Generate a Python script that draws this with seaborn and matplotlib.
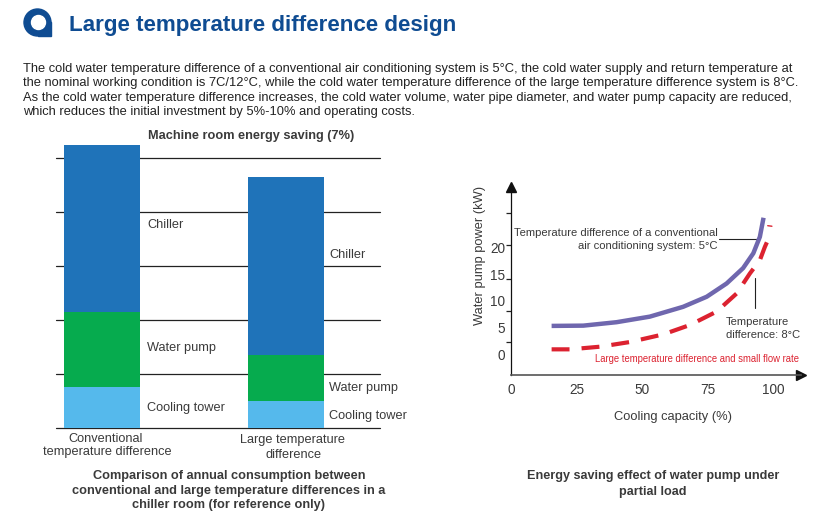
import numpy as np
import matplotlib
matplotlib.use("Agg")
import matplotlib.pyplot as plt
from matplotlib.patches import Circle, Rectangle
from matplotlib.ticker import FixedLocator
import seaborn as sns

# stacked bar values, in gridline units
bar_labels = ["Conventional", "Large"]
tower = [0.76, 0.50]
pump = [1.39, 0.85]
chiller = [3.09, 3.30]

# curves
conv_x = [15.5, 27.6, 40.3, 53, 65.7, 74.7, 82.3, 88.6, 92.5, 95, 96.4]
conv_y = [5.3, 5.35, 6.0, 7.05, 8.9, 10.8, 13.3, 16.2, 19, 22.1, 25.7]
large_x = [15.5, 22.5, 34, 45.4, 58.1, 68.3, 78.5, 86.1, 91.2, 95, 96.9, 98.6]
large_y = [0.88, 0.88, 1.38, 2.26, 3.7, 5.47, 8, 11.4, 15.2, 17.7, 20.2, 22.1]
large_end_x = [98.0, 99.6]
large_end_y = [24.2, 24.1]

y_labels = [0, 5, 10, 15, 20]
x_labels = [0, 25, 50, 75, 100]
y_marks = [2.26, 8.1, 14.15, 20.6, 26.6]

W, H = 815, 522
sns.set_style("white")
plt.rcParams['font.family'] = ['Liberation Sans', 'DejaVu Sans']
fig = plt.figure(figsize=(W / 100, H / 100), dpi=100)


def add_axes_px(left, top, right, bottom):
    return fig.add_axes([left / W, 1 - bottom / H, (right - left) / W, (bottom - top) / H])


def put(x, y, s, size=9.2, color="#3a3a3a", ha="left", **kw):
    fig.text(x / W, 1 - y / H, s, fontsize=size, color=color, ha=ha, va="center_baseline", **kw)


# header
put(69, 23, "Large temperature difference design", size=16.15, color="#0f4c92", weight="bold")
body = ["The cold water temperature difference of a conventional air conditioning system is 5°C, the cold water supply and return temperature at",
        "the nominal working condition is 7C/12°C, while the cold water temperature difference of the large temperature difference system is 8°C.",
        "As the cold water temperature difference increases, the cold water volume, water pipe diameter, and water pump capacity are reduced,",
        "which reduces the initial investment by 5%-10% and operating costs."]
for i, line in enumerate(body):
    put(23, 67.5 + i * 14.4, line, size=9.28, color="#222222")

# logo
logo = fig.add_axes([0, 0, 1, 1], facecolor="none")
logo.set_xlim(0, W)
logo.set_ylim(H, 0)
logo.axis("off")
logo.add_patch(Rectangle((38, 22), 13, 14, color="#0f4c92"))
logo.add_patch(Circle((37.5, 22.5), 13.5, color="#0f4c92"))
logo.add_patch(Circle((38.5, 22.5), 7, color="white"))

# left chart
ax = add_axes_px(56, 143.8, 380, 428)
tower_top = np.array(tower)
pump_top = tower_top + np.array(pump)
chiller_top = pump_top + np.array(chiller)
sns.barplot(x=bar_labels, y=chiller_top, color="#1f73b9", saturation=1, width=0.413, linewidth=0, ax=ax, zorder=3)
sns.barplot(x=bar_labels, y=pump_top, color="#06ab4e", saturation=1, width=0.413, linewidth=0, ax=ax, zorder=3)
sns.barplot(x=bar_labels, y=tower_top, color="#55b9ec", saturation=1, width=0.413, linewidth=0, ax=ax, zorder=3)
ax.set_xlim(-0.25, 1.51)
ax.set_ylim(0, 5.263)
ax.set_yticks(range(6))
ax.grid(axis="y", color="#222222", lw=0.9, clip_on=False)
ax.set_axisbelow(True)
ax.tick_params(left=False, bottom=False, labelleft=False, labelbottom=False)
ax.set_ylabel("")
sns.despine(ax=ax, left=True, bottom=True)

put(251, 134, "Machine room energy saving (7%)", size=9.15, weight="bold", ha="center")
for x, y, s in [(147, 223, "Chiller"), (147, 346, "Water pump"), (147, 407, "Cooling tower"),
                (329, 253, "Chiller"), (329, 386, "Water pump"), (329, 414, "Cooling tower")]:
    put(x, y, s)
put(106, 437, "Conventional", ha="center")
put(107, 451, "temperature difference", ha="center")
put(293, 439, "Large temperature", ha="center")
put(294, 454, "difference", ha="center")
for i, s in enumerate(["Comparison of annual consumption between",
                       "conventional and large temperature differences in a",
                       "chiller room (for reference only)"]):
    put(229, 474.5 + i * 14.7, s, size=9.15, weight="bold", ha="center")

# right chart
ax2 = add_axes_px(511, 187, 801, 375)
sns.lineplot(x=conv_x, y=conv_y, color="#6f67ae", lw=3.2, ax=ax2, solid_capstyle="butt", zorder=3)
sns.lineplot(x=large_x, y=large_y, color="#dc2230", lw=3.0, ax=ax2, linestyle=(0, (4.3, 2.9)),
             dash_capstyle="butt", zorder=3)
sns.lineplot(x=large_end_x, y=large_end_y, color="#dc2230", lw=1.0, ax=ax2, zorder=3)
ax2.set_xlim(0, 110.7)
ax2.set_ylim(-3.96, 31.5)
ax2.set_xticks(x_labels)
ax2.set_yticks(y_labels)
ax2.yaxis.set_minor_locator(FixedLocator(y_marks))
ax2.tick_params(axis="x", length=0, labelsize=9.8, labelcolor="#3a3a3a", pad=6)
ax2.tick_params(axis="y", which="major", length=0, labelsize=9.8, labelcolor="#3a3a3a", pad=4)
ax2.tick_params(axis="y", which="minor", left=True, length=3.5, width=0.9, color="#222222")
sns.despine(ax=ax2)
ax2.spines["left"].set_color("#111111")
ax2.spines["bottom"].set_color("#555555")
ax2.spines["left"].set_linewidth(0.9)
ax2.spines["bottom"].set_linewidth(1.2)
ax2.plot(1, 0, ">", color="#111111", ms=7, transform=ax2.transAxes, clip_on=False)
ax2.plot(0, 1, "^", color="#111111", ms=7, transform=ax2.transAxes, clip_on=False)
ax2.set_xlabel("Cooling capacity (%)", fontsize=9.3, color="#3a3a3a")
ax2.set_ylabel("Water pump power (kW)", fontsize=9.3, color="#3a3a3a")
ax2.xaxis.set_label_coords(0.559, -0.19)
ax2.yaxis.set_label_coords(-0.087, 0.636)

# callouts
ax2.plot([79.4, 94.3], [21.7, 21.7], color="#222222", lw=0.8)
ax2.plot([93.1, 93.1], [14.3, 8.7], color="#222222", lw=0.8)
put(718, 232, "Temperature difference of a conventional", size=8.1, ha="right")
put(718, 244.5, "air conditioning system: 5°C", size=8.1, ha="right")
put(726, 321, "Temperature", size=8.1)
put(726, 334, "difference: 8°C", size=8.1)
put(595, 358, "Large temperature difference and small flow rate", size=6.88, color="#dc2230")

put(653, 475, "Energy saving effect of water pump under", size=9.1, weight="bold", ha="center")
put(653, 490, "partial load", size=9.1, weight="bold", ha="center")

fig.savefig("out.png", dpi=100)
